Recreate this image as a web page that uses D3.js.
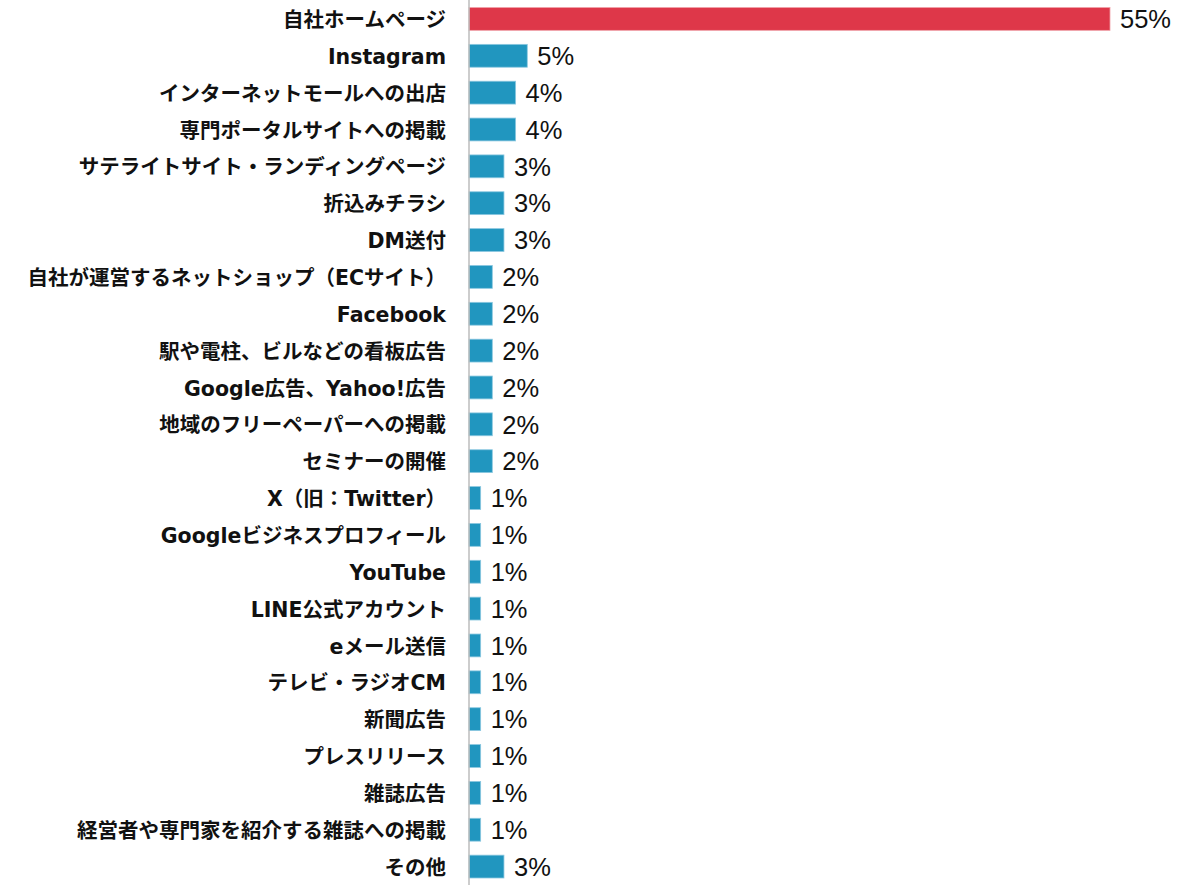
<!DOCTYPE html>
<html>
<head>
<meta charset="utf-8">
<script src="https://cdn.jsdelivr.net/npm/d3@7"></script>
<style>
  body { margin: 0; background: #fff; }
  .label { font-family: "DejaVu Sans", "Noto Sans CJK JP", sans-serif; font-weight: 700; font-size: 20.5px; fill: #111; }
  .value { font-family: "Liberation Sans", Arial, sans-serif; font-size: 25.5px; fill: #111; }
</style>
</head>
<body>
<div id="chart-area"></div>
<script>
const categories = [
  '自社ホームページ', 'Instagram', 'インターネットモールへの出店', '専門ポータルサイトへの掲載',
  'サテライトサイト・ランディングページ', '折込みチラシ', 'DM送付', '自社が運営するネットショップ（ECサイト）',
  'Facebook', '駅や電柱、ビルなどの看板広告', 'Google広告、Yahoo!広告', '地域のフリーペーパーへの掲載',
  'セミナーの開催', 'X（旧：Twitter）', 'Googleビジネスプロフィール', 'YouTube',
  'LINE公式アカウント', 'eメール送信', 'テレビ・ラジオCM', '新聞広告',
  'プレスリリース', '雑誌広告', '経営者や専門家を紹介する雑誌への掲載', 'その他'
];
const values = [55, 5, 4, 4, 3, 3, 3, 2, 2, 2, 2, 2, 2, 1, 1, 1, 1, 1, 1, 1, 1, 1, 1, 3];
const highlight = '自社ホームページ';

const chartSize = { width: 1200, height: 885 };
const margin = { left: 469, right: 90, top: 0, bottom: 0 };

const svg = d3.select('#chart-area').append('svg')
  .attr('width', chartSize.width)
  .attr('height', chartSize.height);

const x = d3.scaleLinear()
  .domain([0, 55])
  .range([margin.left, 1110]);

const y = d3.scaleBand()
  .domain(categories)
  .range([0.5, 885])
  .paddingInner(0.38)
  .paddingOuter(0.19);

const data = categories.map((c, i) => ({ c, v: values[i] }));

svg.append('g').selectAll('rect')
  .data(data)
  .enter()
  .append('rect')
  .attr('x', x(0))
  .attr('y', d => y(d.c))
  .attr('width', d => x(d.v) - x(0))
  .attr('height', y.bandwidth())
  .attr('fill', d => d.c === highlight ? '#DE3749' : '#2196BF')
  .attr('stroke', d => d.c === highlight ? '#f0a0a8' : '#8cc8e0')
  .attr('stroke-width', 0.8);

svg.append('g').selectAll('text')
  .data(data)
  .enter()
  .append('text')
  .attr('class', 'value')
  .attr('x', d => x(d.v) + 10)
  .attr('y', d => y(d.c) + y.bandwidth() / 2)
  .attr('dy', '0.36em')
  .text(d => d.v + '%');

const yAxis = d3.axisLeft(y).tickSize(0).tickPadding(23);
const axisG = svg.append('g')
  .attr('transform', `translate(${x(0)},1.5)`)
  .call(yAxis);
axisG.select('.domain').remove();
axisG.selectAll('text')
  .attr('class', 'label')
  .attr('fill', null)
  .attr('font-family', null)
  .attr('font-size', null);

svg.append('line')
  .attr('x1', x(0)).attr('x2', x(0))
  .attr('y1', 0).attr('y2', chartSize.height)
  .attr('stroke', '#bdbdbd')
  .attr('stroke-width', 1.5);
</script>
</body>
</html>
